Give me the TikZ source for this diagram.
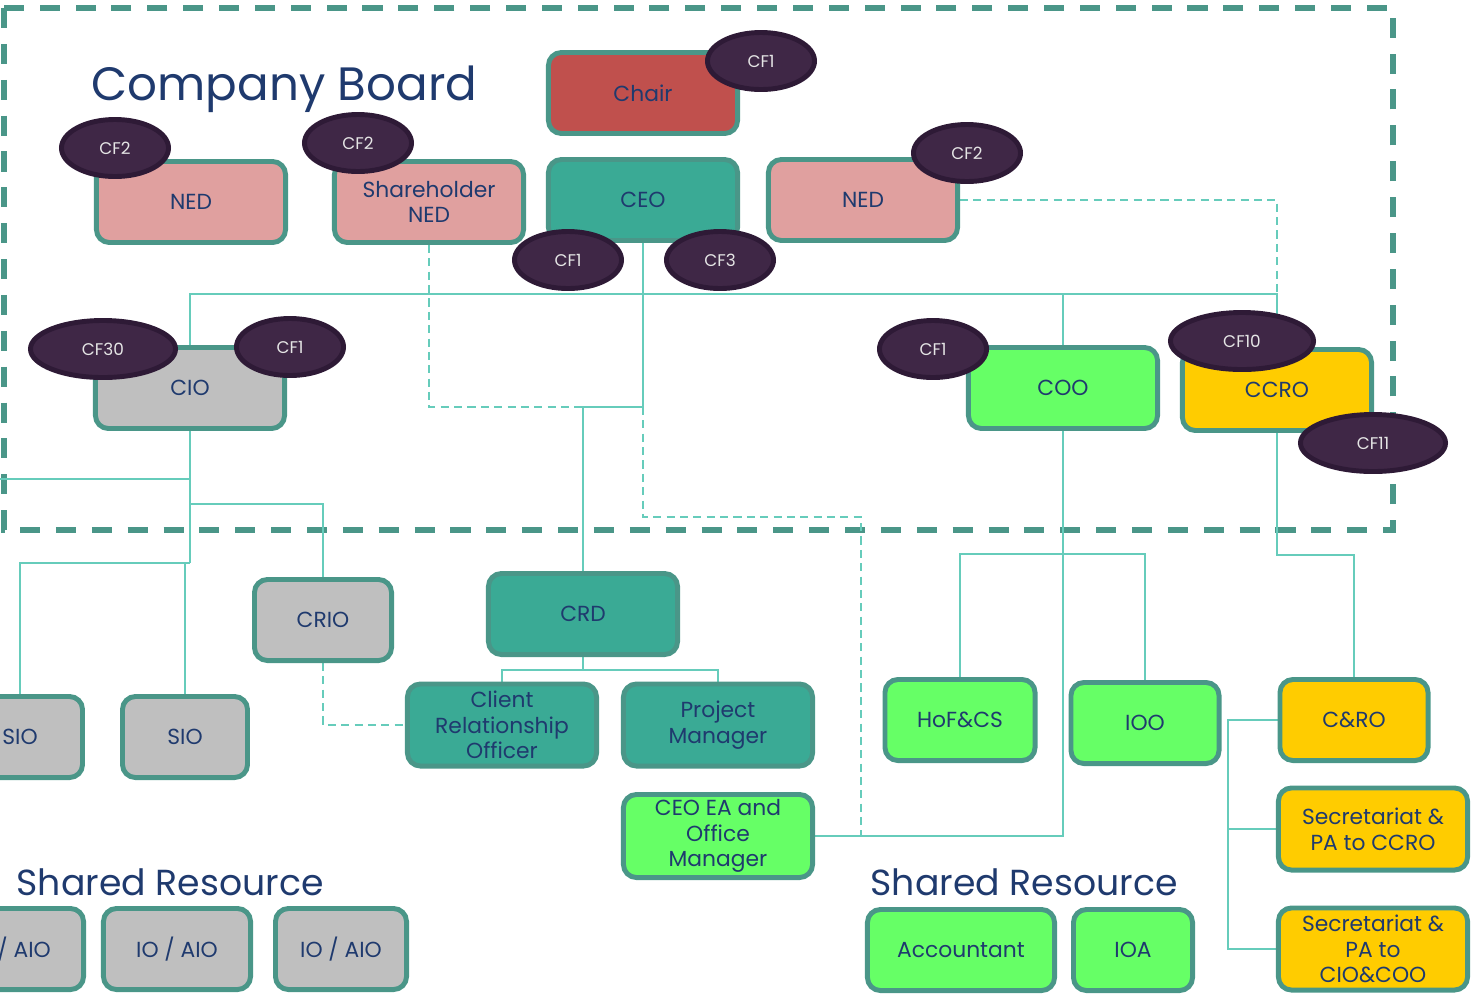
\documentclass[tikz,border=0pt]{standalone}
\usepackage{fontspec}
\setmainfont{Poppins}
\usetikzlibrary{shapes.geometric,backgrounds}
\definecolor{boardline}{HTML}{4A9688}
\definecolor{linkline}{HTML}{66CCBB}
\definecolor{navytext}{HTML}{1F3A6E}
\definecolor{nedpink}{HTML}{E0A09F}
\definecolor{chairred}{HTML}{C0504D}
\definecolor{ceoteal}{HTML}{3AAA95}
\definecolor{infogrey}{HTML}{BFBFBF}
\definecolor{opsgreen}{HTML}{66FF66}
\definecolor{riskgold}{HTML}{FFCC00}
\definecolor{cfplum}{HTML}{3F2746}
\definecolor{cfrim}{HTML}{2E1A36}
\newcommand{\role}[4][]{%
 \node[role,#1] ({#2}) at ({#3}) {#4};%
}
\newcommand{\cfbadge}[4][]{%
 \node[cf,#1] ({#2}) at ({#3}) {#4};%
}

\begin{document}
\begin{tikzpicture}[x=0.01cm,y=-0.01cm,
  role/.style={rectangle,rounded corners=0.13cm,draw=boardline,line width=1.4pt,
    minimum width=1.89cm,minimum height=0.81cm,inner sep=1pt,align=center,
    text=navytext,font=\fontsize{6.2}{7.3}\selectfont},
  cf/.style={ellipse,fill=cfplum,draw=cfrim,line width=1.4pt,minimum width=1.07cm,
    minimum height=0.57cm,inner sep=0pt,text=white!90!black,font=\fontsize{4.8}{5}\selectfont},
  link/.style={draw=linkline,line width=0.6pt},
  dashlink/.style={link,dash pattern=on 2.3pt off 1.5pt},
  frame/.style={draw=boardline,line width=1.7pt,dash pattern=on 5.7pt off 4.5pt},
  title/.style={inner sep=0pt,text=navytext,font=\fontsize{13.3}{15}\selectfont},
  subtitle/.style={inner sep=0pt,text=navytext,font=\fontsize{10.3}{12}\selectfont}]
  \useasboundingbox (0,0) rectangle (1472,996);
  \clip (0,0) rectangle (1472,996);

  \node[title,anchor=base west] (boardtitle) at (91,100) {Company Board};
  \node[subtitle,anchor=base west] (sharedL) at (16,895) {Shared Resource};
  \node[subtitle,anchor=base west] (sharedR) at (870,895) {Shared Resource};

  % board
  \role[fill=chairred]{chair}{643,93}{Chair};
  \role[fill=ceoteal]{ceo}{643,200}{CEO};
  \role[fill=nedpink]{ned1}{191,202}{NED};
  \role[fill=nedpink]{shned}{429,202}{Shareholder\\NED};
  \role[fill=nedpink]{ned2}{863,200}{NED};
  \role[fill=infogrey]{cio}{190,388}{CIO};
  \role[fill=opsgreen]{coo}{1063,388}{COO};
  \role[fill=riskgold]{ccro}{1277,390}{CCRO};

  % below the board
  \role[fill=infogrey,minimum width=1.37cm]{crio}{323,620}{CRIO};
  \role[fill=ceoteal]{crd}{583,614}{CRD};
  \role[fill=ceoteal,minimum height=0.82cm]{clro}{502,725}{Client\\Relationship\\Officer};
  \role[fill=ceoteal,minimum height=0.82cm]{pm}{718,725}{Project\\Manager};
  \role[fill=opsgreen,minimum height=0.83cm]{ceoea}{718,836}{CEO EA and\\Office\\Manager};
  \role[fill=infogrey,minimum width=1.25cm]{sio1}{20,737}{SIO};
  \role[fill=infogrey,minimum width=1.25cm]{sio2}{185,737}{SIO};
  \role[fill=infogrey,minimum width=1.47cm]{ioaio1}{10,949}{IO / AIO};
  \role[fill=infogrey,minimum width=1.47cm]{ioaio2}{177,949}{IO / AIO};
  \role[fill=infogrey,minimum width=1.31cm]{ioaio3}{341,949}{IO / AIO};
  \role[fill=opsgreen,minimum width=1.5cm]{hofcs}{960,720}{HoF\&CS};
  \role[fill=opsgreen,minimum width=1.48cm]{ioo}{1145,723}{IOO};
  \role[fill=riskgold,minimum width=1.48cm]{cro}{1354,720}{C\&RO};
  \role[fill=riskgold,minimum height=0.82cm]{sec1}{1373,829}{Secretariat \&\\PA to CCRO};
  \role[fill=riskgold,minimum height=0.82cm]{sec2}{1373,949}{Secretariat \&\\PA to\\CIO\&COO};
  \role[fill=opsgreen,minimum width=1.87cm]{acct}{961,950}{Accountant};
  \role[fill=opsgreen,minimum width=1.19cm]{ioa}{1133,950}{IOA};

  % CF badges
  \cfbadge{cfchair}{761,61}{CF1};
  \cfbadge{cfned1}{115,148}{CF2};
  \cfbadge{cfshned}{358,143}{CF2};
  \cfbadge{cfned2}{967,153}{CF2};
  \cfbadge{cfceoa}{568,260}{CF1};
  \cfbadge{cfceob}{720,260}{CF3};
  \cfbadge[minimum width=1.45cm]{cfcioa}{103,349}{CF30};
  \cfbadge{cfciob}{290,347}{CF1};
  \cfbadge{cfcoo}{933,349}{CF1};
  \cfbadge[minimum width=1.43cm]{cfccroa}{1242,341}{CF10};
  \cfbadge[minimum width=1.45cm]{cfccrob}{1373,443}{CF11};

  \begin{scope}[on background layer]
  \draw[frame] (4,8) rectangle (1393,530);
  \coordinate (busL) at (190,294);
  \coordinate (busR) at (1277,294);
  \coordinate (ceoJ) at (643,407);
  \coordinate (crdK) at (583,407);
  \coordinate (ceoK) at (643,517);
  \coordinate (eaJ) at (861,836);
  \coordinate (cooJ) at (1063,554);
  \coordinate (ccroJ) at (1277,555);
  \coordinate (secX) at (1228,720);
  \coordinate (cioK) at (190,479);
  \coordinate (offL) at (0,479);
  \coordinate (crioJ) at (190,504);
  \coordinate (cioJ) at (190,563);
  \coordinate (crdB) at (583,670);
  \draw[link] (cio.north) -- (busL) -- (busR) -- (ccro.north);
  \draw[link] (coo.north) -- (coo.north |- busL);
  \draw[link] (ceo.south) -- (ceoJ) -- (crdK) -- (crd.north);
  \draw[dashlink] (ned2.east) -| (busR);
  \draw[dashlink] (shned.south) |- (crdK);
  \draw[dashlink] (ceoJ) -- (ceoK) -| (eaJ);
  \draw[link] (ceoea.east) -- (eaJ) -| (coo.south);
  \draw[link] (hofcs.north) |- (cooJ) -| (ioo.north);
  \draw[link] (ccro.south) -- (ccroJ) -| (cro.north);
  \draw[link] (cro.west) -- (secX) |- (sec1.west);
  \draw[link] (secX) |- (sec2.west);
  \draw[link] (offL) -- (cioK);
  \draw[link] (cio.south) -- (cioJ);
  \draw[link] (crio.north) |- (crioJ);
  \draw[link] (sio1.north) |- (cioJ);
  \draw[link] (sio2.north) -- (sio2.north |- cioJ);
  \draw[dashlink] (crio.south) |- (clro.west);
  \draw[link] (crd.south) -- (crdB);
  \draw[link] (clro.north) |- (crdB) -| (pm.north);
  \end{scope}
\end{tikzpicture}
\end{document}
